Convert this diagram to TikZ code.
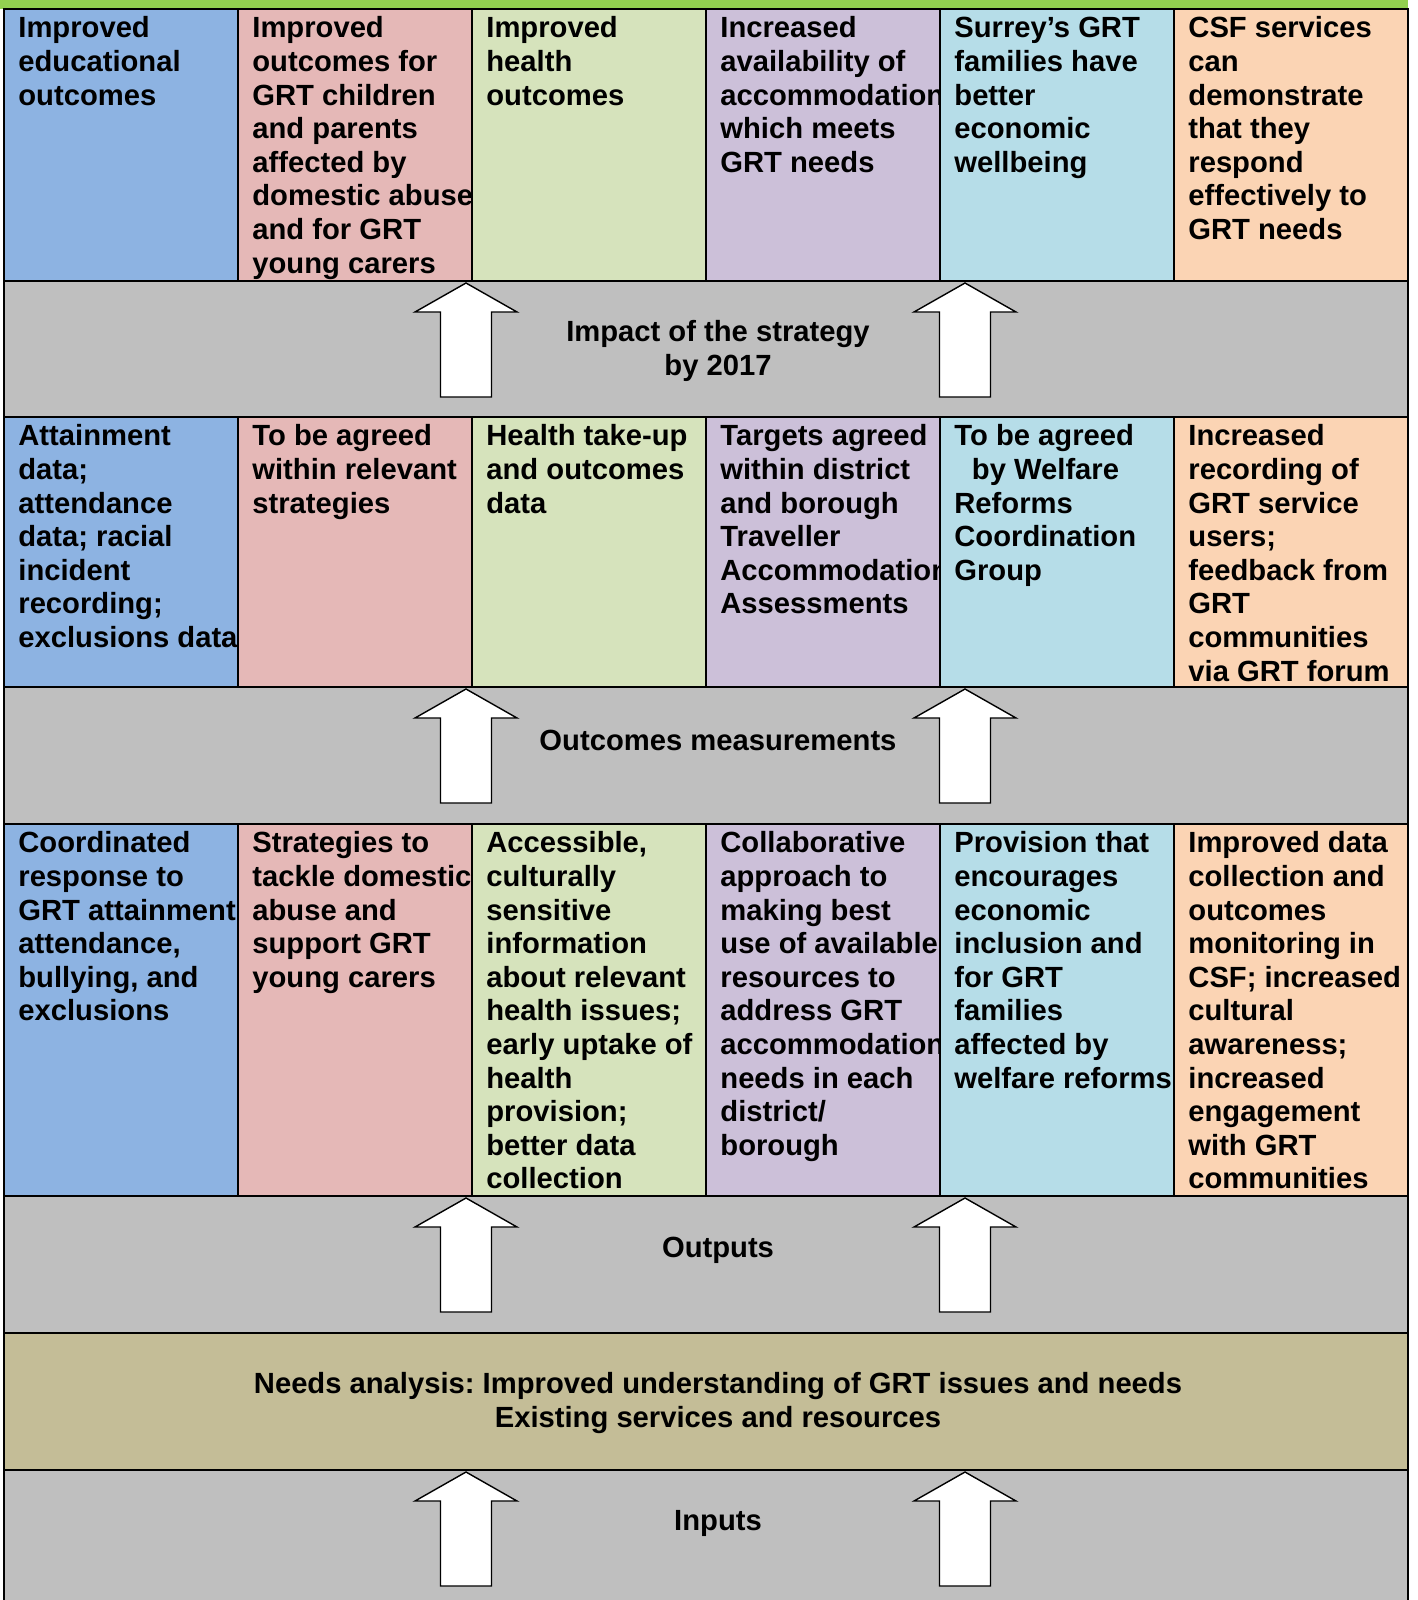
\documentclass[tikz,border=0pt]{standalone}
\usepackage{fontspec}
\setmainfont{Liberation Sans}
\frenchspacing

\definecolor{topgreen}{HTML}{92D050}
\definecolor{edublue}{HTML}{8DB3E2}
\definecolor{abusepink}{HTML}{E5B8B7}
\definecolor{healthgreen}{HTML}{D6E3BC}
\definecolor{homelilac}{HTML}{CCC0D9}
\definecolor{wealthaqua}{HTML}{B6DDE8}
\definecolor{csfpeach}{HTML}{FBD4B4}
\definecolor{bandgray}{HTML}{BFBFBF}
\definecolor{needsbeige}{HTML}{C4BD97}

\newcommand{\cellfont}{\fontsize{14.6pt}{16.8pt}\selectfont\bfseries}

\tikzset{
  cell/.style={draw=black, line width=1pt},
  celltext/.style={anchor=north west, align=left, inner sep=0pt, font=\cellfont},
  bandtext/.style={anchor=base, align=center, inner sep=0pt, font=\cellfont},
  blockarrow/.style={draw=black, fill=white, line width=0.7pt, line join=miter}
}

% one coloured box of the grid: name, left, top, bottom, colour, text
\newcommand{\gridcell}[6]{%
  \draw[cell, fill=#5] (#2,#3) rectangle (#2+234,#4);
  \begin{scope}
    \clip (#2,#3) rectangle (#2+234,#4);
    \node[celltext] (#1) at (#2+14,#3+5) {\strut#6};
  \end{scope}}

\begin{document}
\begin{tikzpicture}[x=0.5pt, y=-0.5pt]
  \useasboundingbox (0,0) rectangle (1418,1600);
  \fill[topgreen] (0,0) rectangle (1408,9);

  % grey bands and the needs band
  \draw[cell, fill=bandgray] (4,281) rectangle (1408,417);
  \draw[cell, fill=bandgray] (4,687) rectangle (1408,824);
  \draw[cell, fill=bandgray] (4,1196) rectangle (1408,1333);
  \draw[cell, fill=needsbeige] (4,1333) rectangle (1408,1470);
  \draw[cell, fill=bandgray] (4,1470) rectangle (1408,1610);

  % impact row
  \gridcell{imp1}{4}{9}{281}{edublue}{Improved\\educational\\outcomes}
  \gridcell{imp2}{238}{9}{281}{abusepink}{Improved\\outcomes for\\GRT children\\and parents\\affected by\\domestic abuse\\and for GRT\\young carers}
  \gridcell{imp3}{472}{9}{281}{healthgreen}{Improved\\health\\outcomes}
  \gridcell{imp4}{706}{9}{281}{homelilac}{Increased\\availability of\\accommodation\\which meets\\GRT needs}
  \gridcell{imp5}{940}{9}{281}{wealthaqua}{Surrey’s GRT\\families have\\better\\economic\\wellbeing}
  \gridcell{imp6}{1174}{9}{281}{csfpeach}{CSF services\\can\\demonstrate\\that they\\respond\\effectively to\\GRT needs}

  % measurement row
  \gridcell{meas1}{4}{417}{687}{edublue}{Attainment\\data;\\attendance\\data; racial\\incident\\recording;\\exclusions data}
  \gridcell{meas2}{238}{417}{687}{abusepink}{To be agreed\\within relevant\\strategies}
  \gridcell{meas3}{472}{417}{687}{healthgreen}{Health take-up\\and outcomes\\data}
  \gridcell{meas4}{706}{417}{687}{homelilac}{Targets agreed\\within district\\and borough\\Traveller\\Accommodation\\Assessments}
  \gridcell{meas5}{940}{417}{687}{wealthaqua}{To be agreed\\\hspace{0.6em}by Welfare\\Reforms\\Coordination\\Group}
  \gridcell{meas6}{1174}{417}{687}{csfpeach}{Increased\\recording of\\GRT service\\users;\\feedback from\\GRT\\communities\\via GRT forum}

  % output row
  \gridcell{out1}{4}{824}{1196}{edublue}{Coordinated\\response to\\GRT attainment,\\attendance,\\bullying, and\\exclusions}
  \gridcell{out2}{238}{824}{1196}{abusepink}{Strategies to\\tackle domestic\\abuse and\\support GRT\\young carers}
  \gridcell{out3}{472}{824}{1196}{healthgreen}{Accessible,\\culturally\\sensitive\\information\\about relevant\\health issues;\\early uptake of\\health\\provision;\\better data\\collection}
  \gridcell{out4}{706}{824}{1196}{homelilac}{Collaborative\\approach to\\making best\\use of available\\resources to\\address GRT\\accommodation\\needs in each\\district/\\borough}
  \gridcell{out5}{940}{824}{1196}{wealthaqua}{Provision that\\encourages\\economic\\inclusion and\\for GRT\\families\\affected by\\welfare reforms}
  \gridcell{out6}{1174}{824}{1196}{csfpeach}{Improved data\\collection and\\outcomes\\monitoring in\\CSF; increased\\cultural\\awareness;\\increased\\engagement\\with GRT\\communities}

  % block arrows
  \foreach \t in {283,689,1198,1472}
    \foreach \x in {466,965}
      \draw[blockarrow] (\x,\t) -- ++(51,29) -- ++(-25.5,0) -- ++(0,85)
        -- ++(-51,0) -- ++(0,-85) -- ++(-25.5,0) -- cycle;

  \node[bandtext] (impact) at (718,375) {Impact of the strategy\\by 2017};
  \node[bandtext] (measures) at (718,750) {Outcomes measurements};
  \node[bandtext] (outputs) at (718,1257) {Outputs};
  \node[bandtext] (needs) at (718,1427) {Needs analysis: Improved understanding of GRT issues and needs\\Existing services and resources};
  \node[bandtext] (inputs) at (718,1530) {Inputs};
\end{tikzpicture}
\end{document}
